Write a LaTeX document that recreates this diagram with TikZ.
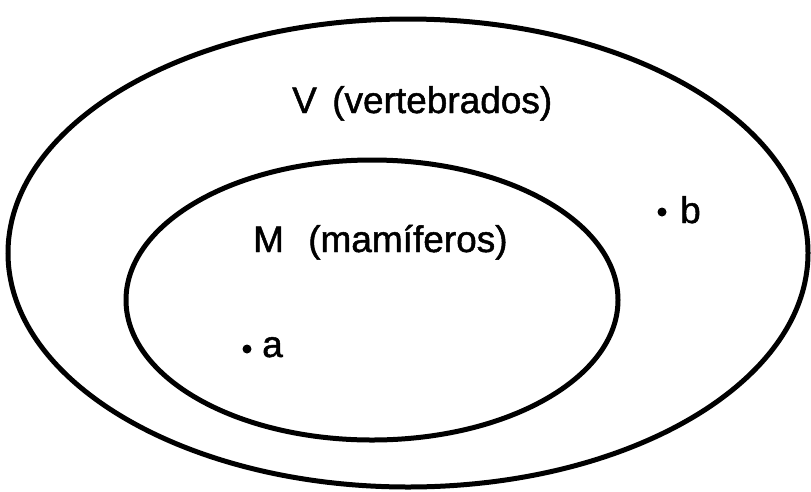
\documentclass[tikz,border=0pt]{standalone}
\usepackage{fontspec}
\setmainfont{Liberation Sans}[FakeBold=1.3]
\begin{document}
\tikzset{
  lbl/.style={inner sep=0pt, anchor=base west, font=\fontsize{37}{44}\selectfont},
  ring/.style={line width=5pt},
  spot/.style={circle, fill, inner sep=0pt, minimum size=9pt}
}
\begin{tikzpicture}[x=1pt,y=-1pt]
\useasboundingbox (0,0) rectangle (811,491);
\draw[ring] (408,253) ellipse [x radius=400pt, y radius=234pt];
\draw[ring] (372,300) ellipse [x radius=246pt, y radius=140pt];
\node[lbl] (V) at (292,113) {V};
\node[lbl] (vert) at (332,113) {(vertebrados)};
\node[lbl] (M) at (253,252) {M};
\node[lbl] (mam) at (308,252) {(mamíferos)};
\node[spot] (pa) at (247,349) {};
\node[lbl] (a) at (262,357) {a};
\node[spot] (pb) at (662,212) {};
\node[lbl] (b) at (680,223) {b};
\end{tikzpicture}
\end{document}
